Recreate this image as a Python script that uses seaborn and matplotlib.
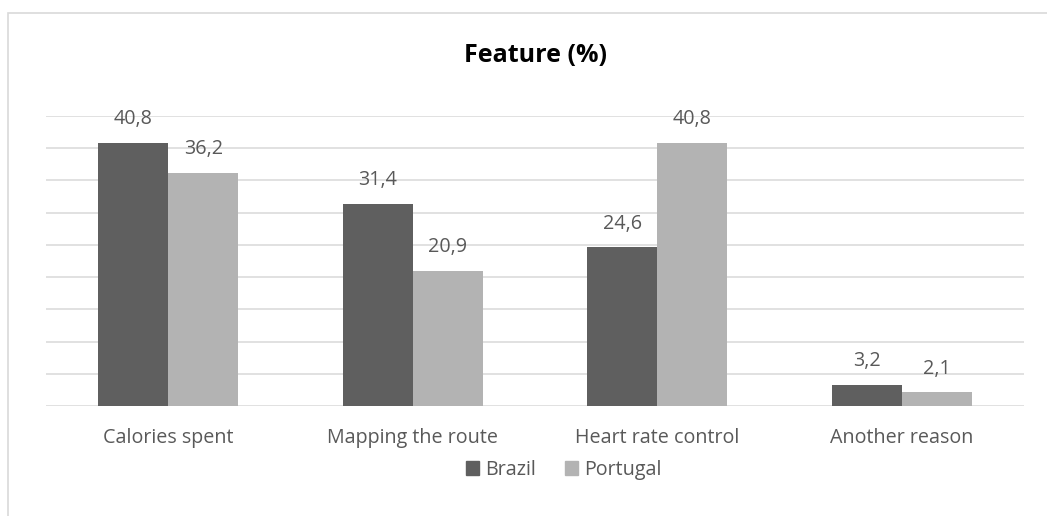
import matplotlib
matplotlib.use("Agg")
import matplotlib.pyplot as plt
import matplotlib.patches as mpatches
import seaborn as sns
import pandas as pd

categories = ["Calories spent", "Mapping the route", "Heart rate control", "Another reason"]
brazil = [40.8, 31.4, 24.6, 3.2]
portugal = [36.2, 20.9, 40.8, 2.1]
series = ["Brazil", "Portugal"]
title = "Feature (%)"

df = pd.DataFrame({
    "Feature": categories * 2,
    "Value": brazil + portugal,
    "Country": [series[0]] * len(categories) + [series[1]] * len(categories),
})

sns.set_theme(style="white")
plt.rcParams["font.family"] = ["Open Sans", "DejaVu Sans"]

text_color = "#595959"
grid_color = "#d9d9d9"
palette = {"Brazil": "#5f5f5f", "Portugal": "#b3b3b3"}
label_size = 14.2

fig = plt.figure(figsize=(10.47, 5.16), dpi=100)
ax = fig.add_axes([46 / 1047, 1 - 406 / 516, (1024 - 46) / 1047, (406 - 116) / 516])

sns.barplot(data=df, x="Feature", y="Value", hue="Country", order=categories,
            hue_order=series, palette=palette, width=0.573, saturation=1,
            ax=ax, legend=False, linewidth=0, zorder=3)

ax.set_ylim(0, 45)
ax.set_yticks(range(0, 46, 5))
ax.yaxis.grid(True, color=grid_color, linewidth=1.1, zorder=0)
ax.set_axisbelow(True)
ax.tick_params(axis="y", left=False, labelleft=False)
ax.tick_params(axis="x", bottom=False, labelsize=label_size, labelcolor=text_color, pad=10)
for s in ["top", "right", "left", "bottom"]:
    ax.spines[s].set_visible(False)
ax.set_xlabel("")
ax.set_ylabel("")
ax.set_xlim(-0.5, len(categories) - 0.5)

for cont in ax.containers:
    ax.bar_label(cont, labels=[f"{v:.1f}".replace(".", ",") for v in cont.datavalues],
                 padding=10, fontsize=label_size, color=text_color)

fig.text(535 / 1047, 1 - 55 / 516, title, ha="center", va="center",
         fontsize=18, fontweight="bold", color="black")

handles = [mpatches.Patch(color=palette[s], label=s) for s in series]
leg = fig.legend(handles=handles, loc="center", bbox_to_anchor=(564 / 1047, 1 - 470 / 516),
                 ncol=2, frameon=False, fontsize=label_size, handlelength=0.65, handleheight=0.65,
                 handletextpad=0.3, columnspacing=1.5)
for t in leg.get_texts():
    t.set_color(text_color)

fig.patches.append(mpatches.Rectangle((8 / 1047, -0.1), 1.2, (516 - 13) / 516 + 0.1,
                                      transform=fig.transFigure, fill=False,
                                      edgecolor=grid_color, linewidth=1.2, zorder=0))

fig.savefig("out.png", dpi=100)
